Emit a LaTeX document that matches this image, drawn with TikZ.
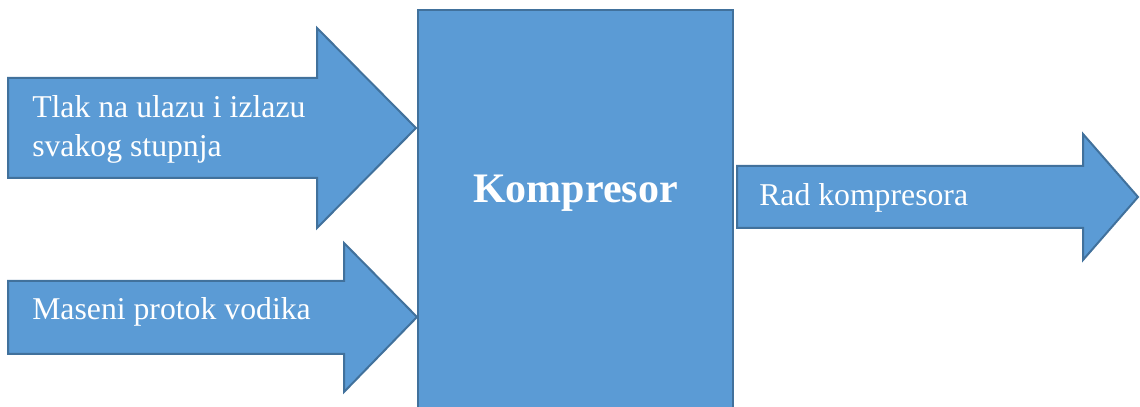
\documentclass[tikz,border=0pt]{standalone}
\usepackage{fontspec}
\setmainfont{Liberation Serif}
\usetikzlibrary{positioning}
\definecolor{boxblue}{HTML}{5B9BD5}
\definecolor{edgeblue}{HTML}{41719C}
\begin{document}
\begin{tikzpicture}[x=0.75pt,y=0.75pt,
    blockshape/.style={fill=boxblue,draw=edgeblue,line width=1.5pt,line join=miter},
    arrowtext/.style={text=white,inner sep=0pt,align=left,
        font=\fontsize{23.8}{29.5}\selectfont}]
    \useasboundingbox (0,0) rectangle (1140,407);

    % Compressor block
    \draw[blockshape] (418,-10) rectangle (733,397);
    \node[text=white,font=\fontsize{31.5}{36}\selectfont\bfseries] (komp) at (575.5,214) {Kompresor};

    % Input 1 - pressure
    \draw[blockshape] (8,329) -- (317,329) -- (317,379) -- (416,279)
        -- (317,179) -- (317,229) -- (8,229) -- cycle;
    \node[arrowtext,anchor=base west] (tlak) at (32,250) {Tlak na ulazu i izlazu\\svakog stupnja};

    % Input 2 - mass flow
    \draw[blockshape] (8,126) -- (344,126) -- (344,164) -- (417,90)
        -- (344,15) -- (344,53) -- (8,53) -- cycle;
    \node[arrowtext,anchor=base west] (protok) at (32,87) {Maseni protok vodika};

    % Output - work
    \draw[blockshape] (737,241) -- (1083,241) -- (1083,273) -- (1138,210)
        -- (1083,147) -- (1083,179) -- (737,179) -- cycle;
    \node[arrowtext,anchor=base west] (rad) at (759,201) {Rad kompresora};
\end{tikzpicture}
\end{document}
